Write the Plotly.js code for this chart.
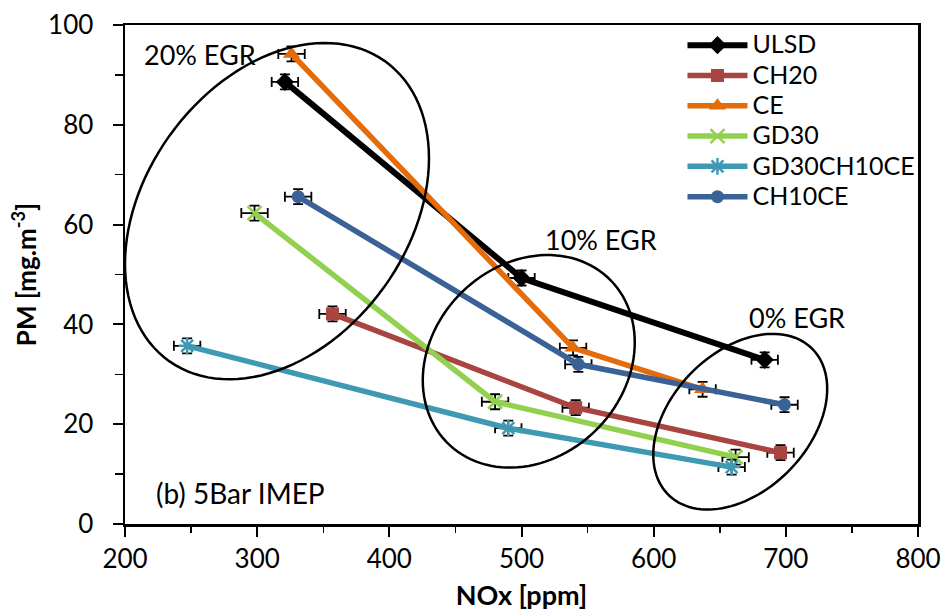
<!DOCTYPE html>
<html>
<head>
<meta charset="utf-8">
<script src="https://cdn.plot.ly/plotly-3.0.1.min.js"></script>
<style>html,body{margin:0;padding:0;background:#fff;}#chart{width:943px;height:616px;}</style>
</head>
<body>
<div id="chart"></div>
<script>
// ---- data (NOx [ppm], PM [mg/m3]) at 20%, 10%, 0% EGR ----
const seriesNames = ['ULSD', 'CH20', 'CE', 'GD30', 'GD30CH10CE', 'CH10CE'];
const ulsdX = [321, 500, 684];      const ulsdY = [88.6, 49.3, 32.9];
const ch20X = [357, 541, 696];      const ch20Y = [42.1, 23.3, 14.3];
const ceX = [326, 539, 637];        const ceY = [94.2, 35.3, 27.0];
const gd30X = [298, 480, 662];      const gd30Y = [62.3, 24.5, 13.4];
const gd30ch10ceX = [247, 490, 659]; const gd30ch10ceY = [35.7, 19.2, 11.4];
const ch10ceX = [331, 543, 699];    const ch10ceY = [65.6, 32.0, 23.9];
const noxErr = [10, 10, 10];
const pmErr = [1.5, 1.5, 1.5];
const xTicks = [200, 300, 400, 500, 600, 700, 800];
const yTicks = [0, 20, 40, 60, 80, 100];
const egrLabels = ['20% EGR', '10% EGR', '0% EGR'];

const colors = ['#000000', '#A84541', '#E46C0A', '#92D050', '#4099B2', '#3A6296'];
const symbols = ['diamond', 'square', 'triangle-up', 'x-thin-open', 'asterisk-open', 'circle'];
const msizes = [14, 13, 15, 14, 14, 13];
const lwidths = [6, 5.5, 5.5, 5.5, 5.5, 5.5];
const xs = [ulsdX, ch20X, ceX, gd30X, gd30ch10ceX, ch10ceX];
const ys = [ulsdY, ch20Y, ceY, gd30Y, gd30ch10ceY, ch10ceY];

const traces = seriesNames.map((n, i) => ({
  type: 'scatter', mode: 'lines+markers',
  name: '<span style="font-size:25px">' + n + '</span>',
  x: xs[i], y: ys[i],
  line: {color: colors[i], width: lwidths[i]},
  marker: {symbol: symbols[i], size: msizes[i], color: colors[i],
           line: {color: colors[i], width: (i === 3 || i === 4) ? 2.5 : 0}},
  error_x: {type: 'data', array: noxErr, color: '#000', thickness: 1.8, width: 5},
  error_y: {type: 'data', array: pmErr, color: '#000', thickness: 1.8, width: 5}
}));

// ellipse outlines (center, half-width, y-offset at rightmost point, half-height) in data units
function ellipsePath(cx, cy, hw, k, hh) {
  const s = Math.sqrt(hh * hh - k * k);
  let p = '';
  for (let j = 0; j <= 120; j++) {
    const t = 2 * Math.PI * j / 120;
    const x = cx + hw * Math.cos(t);
    const y = cy + k * Math.cos(t) + s * Math.sin(t);
    p += (j === 0 ? 'M' : 'L') + x.toFixed(3) + ',' + y.toFixed(3);
  }
  return p + 'Z';
}
const shapes = [
  ellipsePath(315, 62.7, 115, 10.6, 33.7),
  ellipsePath(505.5, 32.6, 80.2, 3.8, 21.3),
  ellipsePath(665.5, 20.5, 65.8, 6.6, 17.6)
].map(p => ({type: 'path', xref: 'x', yref: 'y', path: p,
             line: {color: '#000', width: 2.5}, fillcolor: 'rgba(0,0,0,0)'}));

const F = 'Lato, "Open Sans", sans-serif';
const layout = {
  width: 943, height: 616,
  margin: {l: 125, r: 25, t: 25, b: 92},
  paper_bgcolor: '#fff', plot_bgcolor: '#fff',
  font: {family: F, color: '#000', size: 24},
  showlegend: true,
  legend: {x: 0.703, y: 1.0, xanchor: 'left', yanchor: 'top',
           font: {family: F, size: 21, color: '#000'},
           bgcolor: 'rgba(0,0,0,0)', itemwidth: 60, tracegroupgap: 0},
  xaxis: {range: [200, 800], tickvals: xTicks, ticks: 'outside', ticklen: 10, tickwidth: 2,
          tickcolor: '#000', showline: true, linecolor: '#000', linewidth: 2.5, mirror: true,
          showgrid: false, zeroline: false, tickfont: {family: F, size: 26},
          minor: {dtick: 50, ticks: 'outside', ticklen: 6, tickwidth: 1.5, tickcolor: '#000', showgrid: false},
          title: {text: '<b>NOx [ppm]</b>', font: {family: F, size: 27}, standoff: 14}},
  yaxis: {range: [0, 100], tickvals: yTicks, ticks: 'outside', ticklen: 10, tickwidth: 2,
          tickcolor: '#000', showline: true, linecolor: '#000', linewidth: 2.5, mirror: true,
          showgrid: false, zeroline: false, tickfont: {family: F, size: 26}, ticklabelstandoff: 14,
          minor: {dtick: 10, ticks: 'outside', ticklen: 8, tickwidth: 1.5, tickcolor: '#000', showgrid: false},
          title: {text: '<b>PM [mg.m<sup>-3</sup>]</b>', font: {family: F, size: 26}, standoff: 4}},
  shapes: shapes,
  annotations: [
    {text: egrLabels[0], x: 0.022, y: 0.94, xref: 'paper', yref: 'paper', xanchor: 'left', yanchor: 'middle', showarrow: false, font: {family: F, size: 27}},
    {text: egrLabels[1], x: 0.60, y: 0.57, xref: 'paper', yref: 'paper', xanchor: 'center', yanchor: 'middle', showarrow: false, font: {family: F, size: 27}},
    {text: egrLabels[2], x: 0.848, y: 0.413, xref: 'paper', yref: 'paper', xanchor: 'center', yanchor: 'middle', showarrow: false, font: {family: F, size: 27}},
    {text: '(b) 5Bar IMEP', x: 0.036, y: 0.062, xref: 'paper', yref: 'paper', xanchor: 'left', yanchor: 'middle', showarrow: false, font: {family: F, size: 28}}
  ]
};
Plotly.newPlot('chart', traces, layout, {displayModeBar: false, staticPlot: true});
</script>
</body>
</html>
